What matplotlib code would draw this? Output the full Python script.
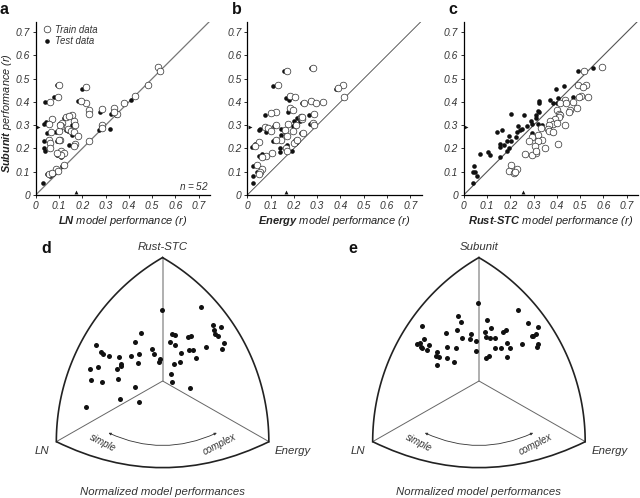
import numpy as np
from matplotlib import pyplot as plt
from matplotlib.path import Path
from matplotlib.patches import PathPatch, FancyArrowPatch

plt.rcParams['font.family'] = ['Liberation Sans', 'DejaVu Sans']
plt.rcParams['mathtext.fontset'] = 'custom'
plt.rcParams['mathtext.it'] = 'Liberation Sans:italic'
plt.rcParams['mathtext.rm'] = 'Liberation Sans'
plt.rcParams['mathtext.bf'] = 'Liberation Sans:bold'
plt.rcParams['mathtext.bfit'] = 'Liberation Sans:italic:bold'

W, H = 640, 498
DARK = '#2b2b2b'

# panel a
a_train_x = [.525,.535,.48,.425,.38,.35,.335,.335,.285,.23,.23,.215,.215,.195,.1,.095,.06,.07,.155,.13,.165,.115,.055,.17,.285,.285,.11,.14,.15,.165,.065,.1,.18,.055,.06,.105,.1,.17,.23,.06,.11,.12,.11,.12,.085,.095,.055,.07,.165,.09,.145,.105]
a_train_y = [.55,.535,.475,.425,.395,.35,.375,.355,.37,.365,.35,.465,.395,.405,.475,.42,.4,.325,.345,.335,.32,.31,.305,.3,.3,.29,.295,.285,.275,.27,.27,.275,.255,.235,.225,.235,.235,.22,.23,.2,.19,.18,.17,.13,.11,.105,.09,.095,.21,.18,.34,.3]
a_test_x = [.03,.06,.08,.115,.09,.095,.1,.035,.04,.035,.09,.095,.145,.085,.05,.035,.045,.1,.12,.14,.14,.155,.155,.16,.04,.08,.09,.18,.2,.275,.325,.345,.27,.32,.41,.28,.105,.11,.075,.065,.13,.05]
a_test_y = [.05,.08,.1,.125,.17,.18,.175,.2,.19,.23,.23,.23,.215,.27,.265,.305,.315,.305,.33,.34,.275,.26,.3,.21,.4,.42,.475,.405,.455,.355,.35,.345,.28,.285,.41,.295,.29,.165,.09,.095,.28,.09]

# panel b
b_train_x = [.283,.17,.133,.41,.39,.415,.185,.205,.245,.275,.295,.325,.185,.195,.125,.1,.23,.285,.235,.125,.075,.09,.175,.28,.285,.21,.1,.16,.195,.24,.17,.145,.125,.21,.2,.165,.17,.05,.035,.105,.08,.04,.065,.055,.05,.215,.065,.235]
b_train_y = [.547,.535,.475,.475,.46,.42,.425,.42,.397,.405,.395,.4,.375,.365,.357,.352,.337,.347,.325,.3,.293,.29,.305,.31,.3,.3,.275,.28,.275,.268,.255,.235,.235,.23,.225,.2,.19,.227,.21,.182,.168,.13,.112,.1,.09,.235,.165,.335]
b_test_x = [.025,.025,.025,.04,.05,.065,.02,.035,.055,.08,.05,.075,.11,.125,.115,.145,.145,.16,.14,.14,.17,.19,.195,.2,.215,.225,.175,.165,.18,.11,.157,.275,.38,.265,.27,.23,.235,.27,.285,.21]
b_test_y = [.05,.08,.125,.1,.168,.175,.205,.22,.285,.27,.28,.345,.233,.232,.295,.285,.26,.27,.2,.183,.213,.19,.295,.32,.33,.32,.355,.415,.41,.47,.535,.545,.455,.345,.305,.265,.395,.405,.3,.225]

# panel c
c_train_x = [.595,.515,.49,.525,.51,.535,.505,.495,.485,.47,.435,.415,.44,.455,.45,.4,.41,.415,.41,.39,.37,.385,.365,.4,.435,.33,.36,.365,.385,.32,.295,.28,.335,.32,.305,.405,.35,.31,.265,.295,.31,.205,.195,.215,.23,.22]
c_train_y = [.55,.535,.475,.475,.465,.42,.425,.42,.375,.4,.41,.395,.395,.365,.355,.365,.35,.345,.335,.325,.32,.305,.3,.31,.3,.29,.285,.275,.27,.26,.25,.23,.235,.23,.21,.22,.2,.18,.175,.17,.19,.13,.105,.095,.11,.1]
c_test_x = [.04,.04,.05,.055,.043,.07,.105,.112,.155,.155,.155,.145,.165,.175,.185,.185,.195,.195,.205,.205,.225,.23,.235,.24,.25,.26,.27,.29,.295,.295,.31,.31,.32,.32,.325,.325,.325,.335,.37,.385,.395,.4,.405,.43,.47,.49,.555]
c_test_y = [.05,.1,.1,.08,.125,.175,.185,.17,.165,.205,.22,.27,.28,.215,.19,.23,.2,.255,.23,.35,.25,.27,.295,.28,.285,.345,.295,.32,.265,.305,.33,.345,.36,.305,.405,.395,.355,.3,.41,.395,.455,.395,.415,.47,.42,.535,.545]

# medians, marked with the small triangles
a_med = (.175, .293)
b_med = (.165, .293)
c_med = (.255, .293)

# panel d, read in crop units (3 per pixel)
d_x = [603,485,638,664,643,646,655,422,517,526,564,574,287,405,509,525,673,667,619,568,578,303,310,327,358,393,418,457,461,544,588,481,478,414,364,364,351,293,271,522,540,513,272,306,354,404,516,571,361,416,259]
d_y = [246,256,300,307,316,328,333,324,327,331,336,333,359,352,351,359,353,371,366,375,374,380,387,393,395,394,387,372,387,385,400,403,412,415,416,424,431,426,433,418,410,447,464,471,462,485,472,490,521,532,545]

# panel e
e_x = [595,473,413,502,423,624,305,512,653,412,495,558,549,647,636,378,453,312,425,449,497,511,526,467,290,300,328,303,322,380,409,524,543,562,569,605,655,652,352,469,348,358,381,403,351,499,508,561,306,638]
e_y = [254,233,273,284,292,295,302,309,307,314,321,315,322,326,333,325,327,341,340,342,336,338,338,348,357,353,361,367,374,367,368,368,369,354,368,357,356,365,380,379,392,395,399,411,421,399,394,396,370,332]


def px_axes(fig, left, top, width, height):
    return fig.add_axes([left / W, 1 - (top + height) / H, width / W, height / H])


def scatter_panel(ax, tr_x, tr_y, te_x, te_y, med, xlabel, diag):
    ax.plot([0, .75], [0, .75], color=diag[0], lw=diag[1], zorder=1)
    ax.plot(te_x, te_y, 'o', color='#111111', ms=3.3, mew=0, zorder=2, label='Test data')
    ax.plot(tr_x, tr_y, 'o', mfc='white', mec=DARK, ms=4.8, mew=.5, zorder=3, label='Train data')
    ax.plot(med[0], .012, '^', color='#111111', ms=2.8, mew=0, zorder=4)
    ax.plot(.012, med[1], '>', color='#111111', ms=2.8, mew=0, zorder=4)
    ax.set_xlim(0, .749)
    ax.set_ylim(0, .745)
    ticks = [0, .1, .2, .3, .4, .5, .6, .7]
    labels = ['0', '0.1', '0.2', '0.3', '0.4', '0.5', '0.6', '0.7']
    ax.set_xticks(ticks)
    ax.set_xticklabels(labels, style='italic', fontsize=7.4, color='#333333')
    ax.set_yticks(ticks)
    ax.set_yticklabels(labels, style='italic', fontsize=7.4, color='#333333')
    ax.tick_params(length=2.5, width=.7, pad=1.5, color=DARK)
    ax.spines['top'].set_visible(False)
    ax.spines['right'].set_visible(False)
    ax.spines['left'].set_linewidth(.9)
    ax.spines['bottom'].set_linewidth(.9)
    ax.patch.set_alpha(0)
    ax.set_xlabel(xlabel, style='italic', fontsize=8, labelpad=2.5, color='#222222')


def arc(c, p, q, n=60):
    a1 = np.arctan2(p[1] - c[1], p[0] - c[0])
    a2 = np.arctan2(q[1] - c[1], q[0] - c[0])
    # short way round
    d = (a2 - a1 + np.pi) % (2 * np.pi) - np.pi
    r = np.hypot(p[0] - c[0], p[1] - c[1])
    t = np.linspace(a1, a1 + d, n)
    return c[0] + r * np.cos(t), c[1] + r * np.sin(t)


def triangle_panel(ax, x, y, cx, xmax, top_name, lab_lx, lab_rx):
    top = (cx, 98)
    left = (cx - 319, 650)
    right = (cx + 319, 650)
    mid = (cx, 468)
    ax.set_xlim(0, xmax)
    ax.set_ylim(819, 0)
    ax.axis('off')
    # grey spokes
    ax.plot([cx, cx], [top[1], mid[1]], color='#9a9a9a', lw=1.1, zorder=1)
    ax.plot([left[0], cx, right[0]], [left[1], mid[1], right[1]], color='#666666', lw=.7, zorder=1)
    # outer edges bulge like a Reuleaux triangle
    ex, ey = arc(right, left, top)
    ax.plot(ex, ey, color='#222222', lw=1.2, zorder=2)
    ex, ey = arc(left, top, right)
    ax.plot(ex, ey, color='#222222', lw=1.2, zorder=2)
    bottom = PathPatch(Path([left, (cx, 806), right], [Path.MOVETO, Path.CURVE3, Path.CURVE3]),
                       fc='none', ec='#222222', lw=1.2, zorder=2)
    ax.add_patch(bottom)
    ax.plot(x, y, 'o', color='#111111', ms=3.6, mew=0, zorder=3)
    arrow = FancyArrowPatch((cx - 170, 620), (cx + 170, 620), connectionstyle='arc3,rad=0.24',
                            arrowstyle='<|-|>', mutation_scale=3.5, lw=.6, color='#333333', zorder=2)
    ax.add_patch(arrow)
    ax.text(cx - 181, 654, 'simple', style='italic', fontsize=7, rotation=-27,
            ha='center', va='center', color='#333333')
    ax.text(cx + 170, 657, 'complex', style='italic', fontsize=7, rotation=27,
            ha='center', va='center', color='#333333')
    ax.text(cx, 65, top_name, style='italic', fontsize=8.2, ha='center', va='center', color='#333333')
    ax.text(lab_lx, 678, 'LN', style='italic', fontsize=8.2, ha='center', va='center', color='#333333')
    ax.text(lab_rx, 678, 'Energy', style='italic', fontsize=8.2, ha='center', va='center', color='#333333')
    ax.text(cx, 800, 'Normalized model performances', style='italic', fontsize=8.2,
            ha='center', va='center', color='#333333')


fig = plt.figure(figsize=(W / 100, H / 100), dpi=100)

ax_a = px_axes(fig, 35.7, 21.7, 174.5, 173.3)
scatter_panel(ax_a, a_train_x, a_train_y, a_test_x, a_test_y, a_med,
              r'$\mathbfit{LN}$ model performance ($r$)', ('#777777', .9))
ax_a.set_ylabel(r'$\mathbfit{Subunit}$ performance ($r$)', style='italic', fontsize=7.8, color='#222222')
ax_a.yaxis.set_label_coords(-.125, .473)
ax_a.text(.742, .038, '$n$ = 52', style='italic', fontsize=7.2, ha='right', va='center', color='#333333')
h, l = ax_a.get_legend_handles_labels()
leg = ax_a.legend(h[::-1], l[::-1], loc='upper left', bbox_to_anchor=(.012, 1.005), frameon=False, fontsize=6.9,
                  handlelength=1.1, handletextpad=.25, labelspacing=.15, borderaxespad=.2, borderpad=.2)
for t in leg.get_texts():
    t.set_style('italic')
    t.set_color('#333333')

ax_b = px_axes(fig, 247.3, 21.7, 174.5, 173.3)
scatter_panel(ax_b, b_train_x, b_train_y, b_test_x, b_test_y, b_med,
              r'$\mathbfit{Energy}$ model performance ($r$)', ('#444444', .6))

ax_c = px_axes(fig, 463.7, 21.7, 174.5, 173.3)
scatter_panel(ax_c, c_train_x, c_train_y, c_test_x, c_test_y, c_med,
              r'$\mathbfit{Rust}$-$\mathbfit{STC}$ model performance ($r$)', ('#555555', .8))

ax_d = px_axes(fig, 0, 225, 300, 273)
triangle_panel(ax_d, d_x, d_y, 488, 900, 'Rust-STC', 126, 878)

ax_e = px_axes(fig, 320, 225, 320, 273)
triangle_panel(ax_e, e_x, e_y, 477, 960, 'Subunit', 113, 868)

# panel letters
for s, x, y in [('a', 4, 9), ('b', 237, 9), ('c', 453, 9), ('d', 46, 248), ('e', 353, 248)]:
    fig.text(x / W, 1 - y / H, s, fontweight='bold', fontsize=11.5, ha='center', va='center', color='#111111')

fig.savefig('out.png', dpi=100)
